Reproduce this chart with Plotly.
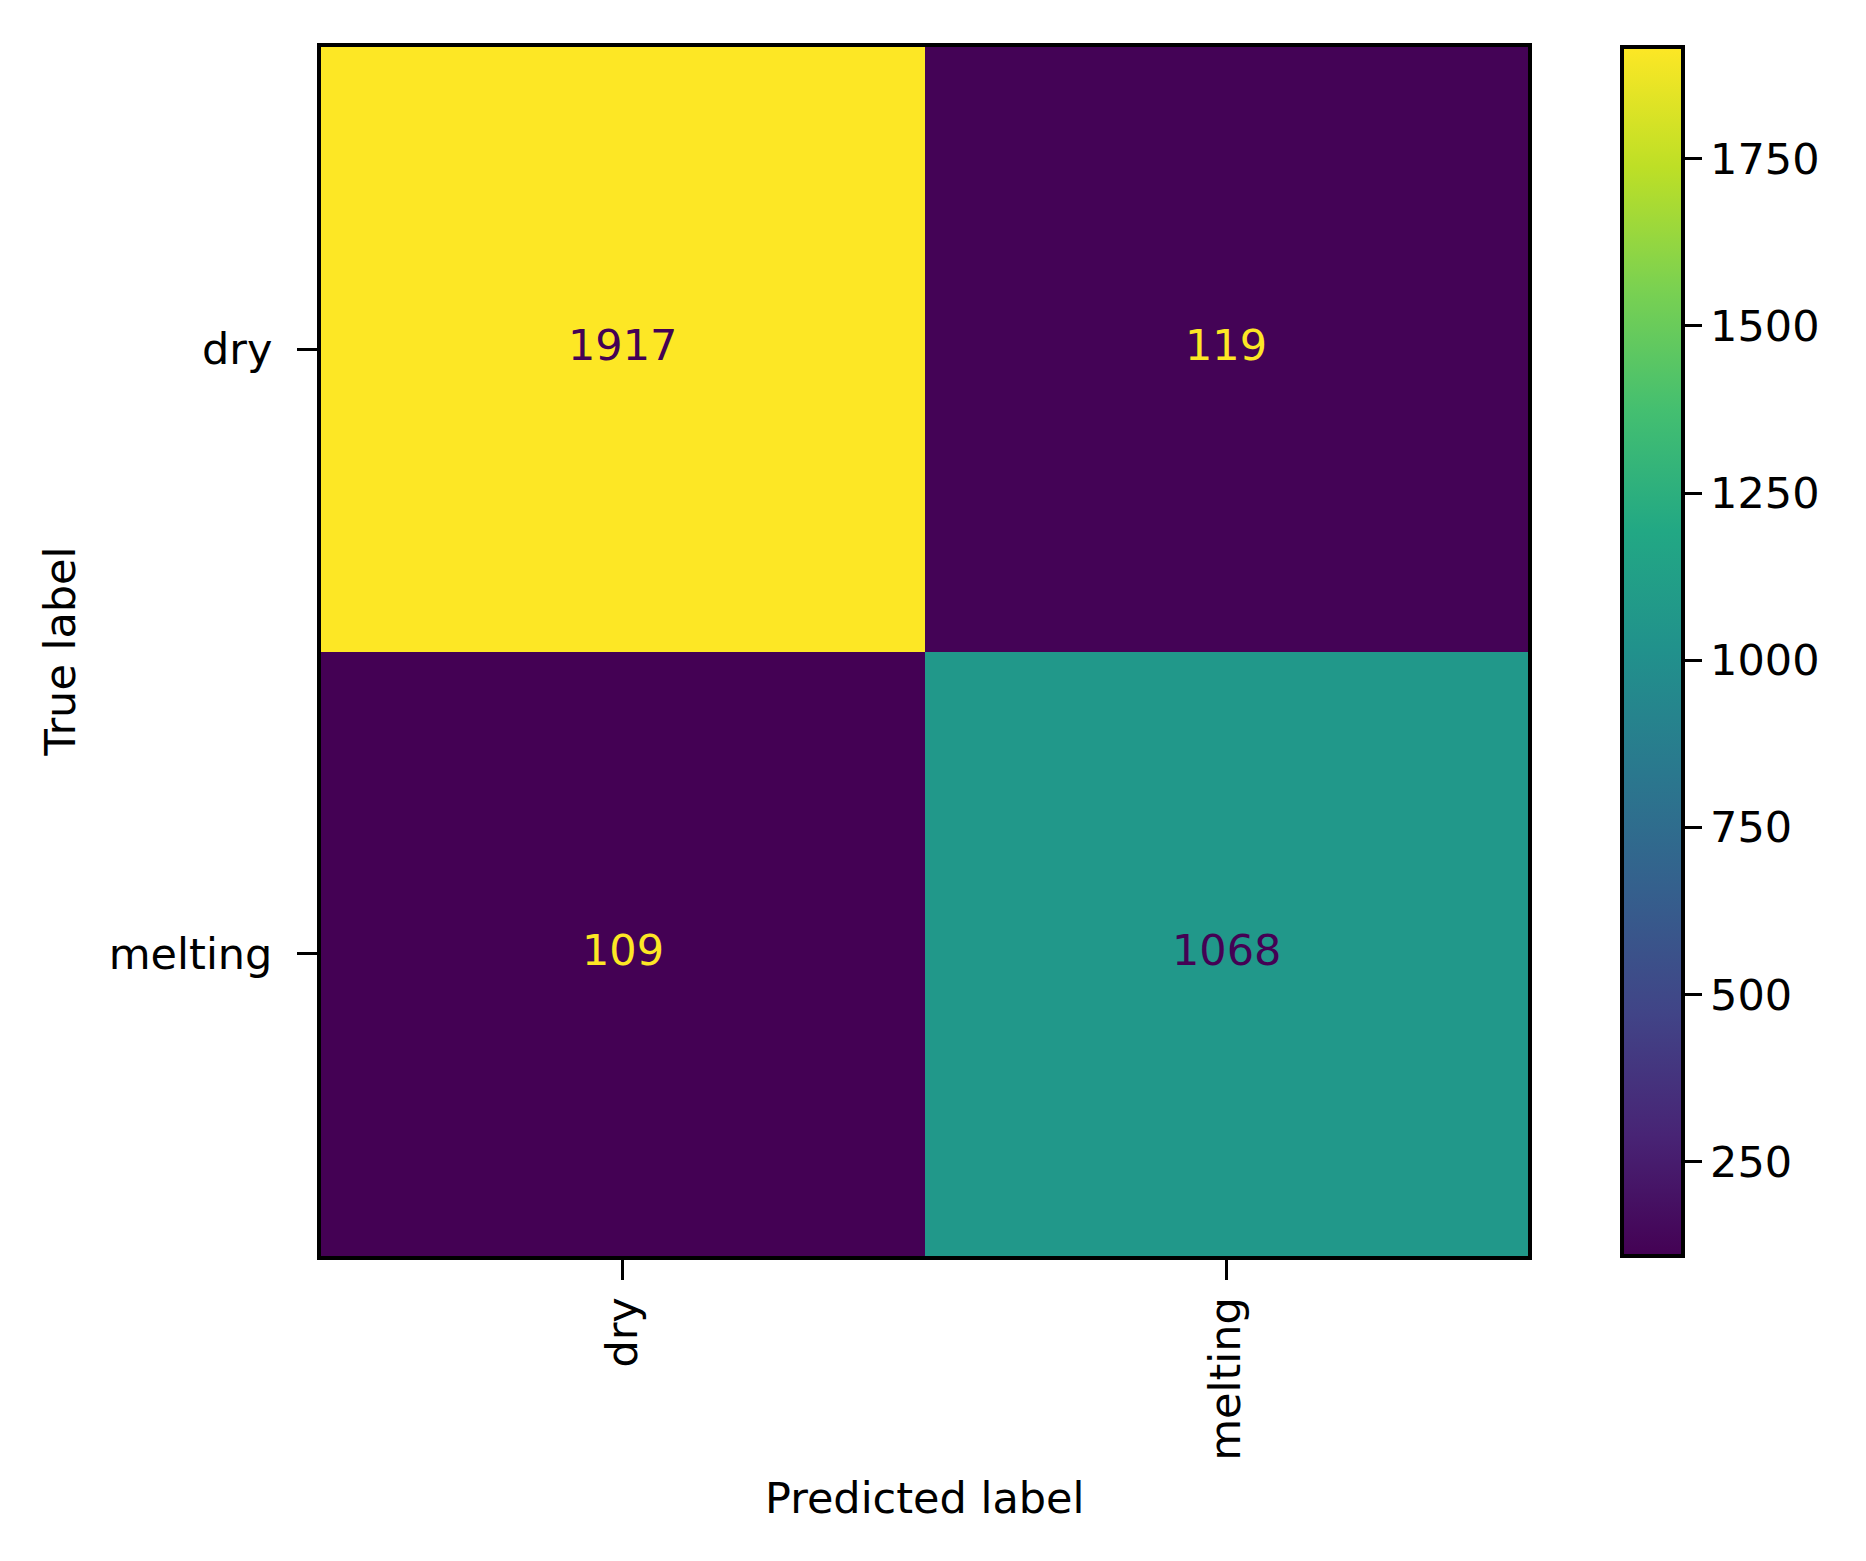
import plotly.graph_objects as go

true_labels = ["dry", "melting"]
pred_labels = ["dry", "melting"]
counts = [[1917, 119], [109, 1068]]
cbar_ticks = [250, 500, 750, 1000, 1250, 1500, 1750]

viridis = [
    [0.0, "#440154"], [0.1, "#482475"], [0.2, "#414487"], [0.3, "#355f8d"],
    [0.4, "#2a788e"], [0.5, "#21918c"], [0.6, "#22a884"], [0.7, "#44bf70"],
    [0.8, "#7ad151"], [0.9, "#bddf26"], [1.0, "#fde725"],
]

FONT = "DejaVu Sans"
FS = 43

W, H = 1866, 1561
L, R, T, B = 313, 1520, 39, 1248

zmin = min(min(r) for r in counts)
zmax = max(max(r) for r in counts)
thresh = (zmin + zmax) / 2

fig = go.Figure()
fig.add_trace(go.Heatmap(
    z=counts, x=pred_labels, y=true_labels,
    colorscale=viridis, zmin=zmin, zmax=zmax,
    xgap=0, ygap=0,
    colorbar=dict(
        x=(1614 - L) / (R - L), xanchor="left", xpad=0, ypad=0,
        y=0.5, yanchor="middle", len=1.0, lenmode="fraction",
        thickness=61, thicknessmode="pixels",
        outlinewidth=4, outlinecolor="black",
        tickvals=cbar_ticks, ticks="outside", ticklen=17, tickwidth=3,
        tickcolor="black",
        tickfont=dict(family=FONT, size=FS, color="black"),
    ),
    showscale=True,
))

for i, row in enumerate(counts):
    for j, v in enumerate(row):
        color = "#440154" if v > thresh else "#fde725"
        fig.add_annotation(
            x=pred_labels[j], y=true_labels[i], text=str(v),
            showarrow=False, yshift=4,
            font=dict(family=FONT, size=FS, color=color),
        )

fig.add_annotation(
    x=0.5, y=0, xref="paper", yref="paper", text="Predicted label",
    showarrow=False, xanchor="center", yanchor="middle", yshift=-(1490 - B),
    font=dict(family=FONT, size=FS, color="black"),
)
fig.add_annotation(
    x=0, y=0.5, xref="paper", yref="paper", text="True label", textangle=-90,
    showarrow=False, xanchor="center", yanchor="middle", xshift=(51 - L),
    font=dict(family=FONT, size=FS, color="black"),
)

axis_common = dict(
    showline=True, mirror=True, linewidth=4, linecolor="black",
    ticks="outside", ticklen=20, tickwidth=3, tickcolor="black",
    showgrid=False, zeroline=False,
    tickfont=dict(family=FONT, size=FS, color="black"),
)

fig.update_layout(
    width=W, height=H,
    margin=dict(l=L, r=W - R, t=T, b=H - B, pad=0, autoexpand=False),
    paper_bgcolor="white", plot_bgcolor="white",
    xaxis=dict(**axis_common, tickangle=-90, type="category"),
    yaxis=dict(**axis_common, autorange="reversed", type="category",
               ticklabelstandoff=16),
    font=dict(family=FONT, size=FS, color="black"),
)

fig.write_html("out.html")
